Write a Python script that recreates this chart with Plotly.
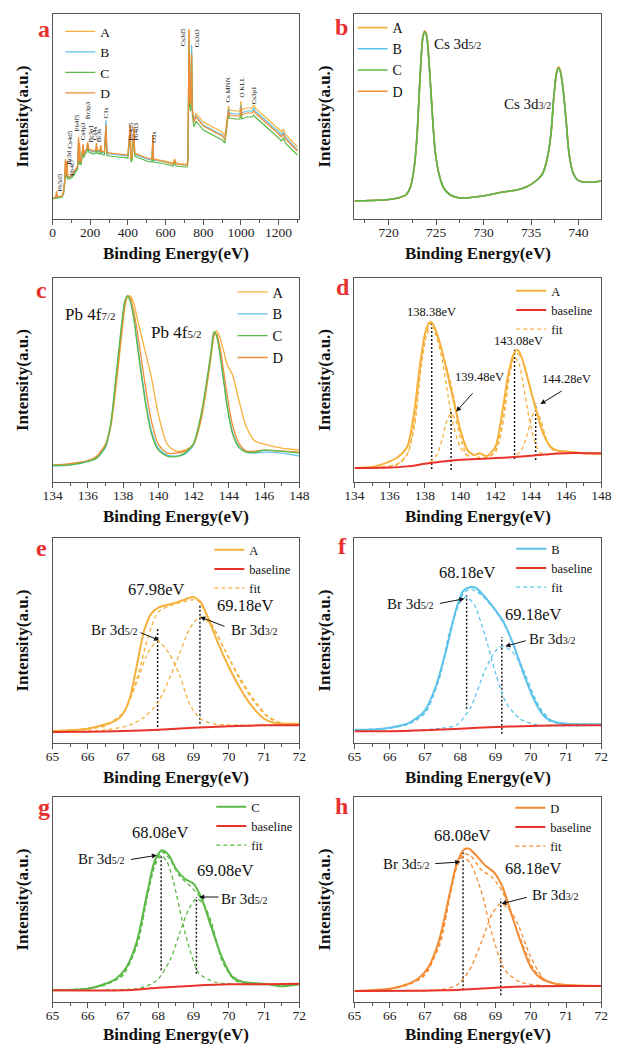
import plotly.graph_objects as go

W, H = 619, 1044
SERIF = "Liberation Serif"
COL_A = "#F6B13C"
COL_B = "#5EC3EA"
COL_C = "#5CB947"
COL_D = "#F28C35"
COL_BASE = "#E8332B"
AXIS_COL = "#555555"
FIT_DASH = "4px,3px"
VLINE_DASH = "2px,2px"

# ---------------- panel a : survey ----------------
survey_be = [0, 18, 21, 24, 50, 58, 65, 68, 72, 77,
             80, 90, 105, 120, 133, 138, 141, 143, 146, 152,
             162, 166, 172, 182, 186, 192, 200, 215, 230, 233,
             236, 250, 256, 259, 275, 284, 288, 300, 350, 400,
             412, 416, 422, 432, 436, 445, 500, 528, 532, 536,
             600, 640, 648, 655, 700, 715, 719, 724, 728, 733,
             738, 742, 750, 762, 800, 850, 900, 915, 922, 930,
             934, 940, 970, 995, 1000, 1005, 1030, 1060, 1068, 1076,
             1100, 1150, 1200, 1215, 1225, 1235, 1260, 1300]
survey_A = [21, 22, 27, 22, 23, 27, 40, 58, 44, 57,
            43, 42, 44, 49, 53, 80, 58, 75, 57, 58,
            74, 64, 68, 70, 76, 70, 69, 68, 69, 75,
            69, 68, 73, 68, 67, 95, 67, 66, 65, 64,
            92, 60, 62, 90, 66, 65, 61, 60, 82, 60,
            58, 56, 60, 56, 55, 55, 62, 189, 120, 115,
            172, 112, 100, 106, 97, 92, 87, 83, 95, 108,
            113, 109, 108, 108, 118, 109, 111, 111, 114, 111,
            107, 99, 90, 87, 90, 85, 80, 72]
survey_B = [21, 21, 26, 21, 22, 26, 39, 56, 43, 55,
            42, 41, 43, 48, 52, 78, 57, 73, 56, 57,
            72, 63, 67, 69, 74, 69, 68, 67, 68, 73,
            68, 67, 71, 67, 66, 99, 66, 65, 64, 63,
            90, 59, 61, 88, 65, 64, 60, 59, 80, 59,
            57, 55, 58, 55, 54, 54, 60, 178, 118, 113,
            174, 110, 98, 103, 94, 89, 84, 80, 92, 105,
            110, 106, 105, 105, 114, 106, 108, 108, 111, 108,
            104, 96, 87, 84, 87, 82, 77, 69]
survey_C = [20, 21, 24, 21, 22, 25, 37, 52, 41, 52,
            40, 40, 42, 46, 50, 74, 55, 70, 54, 55,
            70, 61, 65, 67, 72, 67, 66, 65, 66, 71,
            66, 65, 70, 65, 64, 88, 64, 63, 62, 61,
            86, 57, 59, 85, 63, 62, 58, 57, 78, 57,
            55, 53, 57, 53, 52, 52, 58, 176, 112, 108,
            164, 104, 92, 98, 89, 84, 79, 76, 88, 101,
            105, 101, 100, 100, 110, 100, 102, 102, 104, 102,
            98, 90, 81, 78, 81, 76, 71, 64]
survey_D = [21, 22, 28, 22, 23, 27, 41, 60, 44, 58,
            43, 42, 44, 49, 53, 82, 58, 76, 57, 58,
            75, 64, 68, 70, 77, 70, 69, 68, 69, 76,
            69, 68, 74, 68, 67, 94, 67, 66, 65, 64,
            94, 60, 62, 92, 66, 65, 61, 60, 84, 60,
            57, 55, 59, 55, 54, 54, 62, 190, 119, 114,
            165, 108, 97, 102, 93, 88, 83, 79, 91, 104,
            108, 104, 103, 103, 112, 104, 106, 106, 108, 106,
            102, 94, 85, 82, 85, 80, 75, 68]
survey_peak_names = ["Pb5d5", "Br3d", "Pb4f7", "Cs4d5", "Pb4f5", "Cs4p3", "Br3p3",
                     "Br3p1", "Cs4s", "Br3s", "C1s", "Pb4d5", "Pb4d3", "O1s",
                     "Cs3d5", "Cs3d3", "Cs MNN", "O KLL", "Cs3p1"]
survey_peak_be = [38, 86, 103, 91, 132, 163, 189, 206, 226, 248, 286, 415, 442, 537,
                  694, 768, 929, 1003, 1071]
survey_peak_I = [36, 62, 52, 79, 96, 88, 109, 86, 86, 84, 106, 87, 87, 82,
                 182, 181, 129, 131, 124]

# ---------------- panel b : Cs 3d ----------------
cs_be = [716.4, 718, 720, 721, 721.8, 722.3, 722.7, 723.0, 723.3, 723.6,
         723.8, 724.0, 724.3, 724.6, 724.9, 725.3, 725.8, 726.5, 727.5, 729,
         730.5, 732, 733.5, 734.5, 735.5, 736.2, 736.7, 737.1, 737.4, 737.7,
         737.9, 738.1, 738.4, 738.7, 739.0, 739.4, 739.9, 740.5, 741.5, 742.4]
cs_A = [18, 18.5, 19.5, 21, 24, 32, 52, 85, 140, 182,
        188, 184, 150, 105, 68, 45, 31, 24, 21, 22,
        24, 27, 29, 32, 38, 45, 60, 85, 122, 147,
        152, 148, 128, 98, 66, 47, 39, 37, 37, 38]
cs_B = [18, 18.5, 19.5, 21, 24, 32, 53, 86, 141, 182,
        187, 183, 149, 104, 67, 45, 31, 24, 21, 22,
        24, 27, 29, 32, 38, 45, 61, 86, 123, 147,
        151, 147, 127, 97, 65, 46, 39, 37, 37, 38]
cs_C = [18, 18.5, 19.5, 21, 24, 32, 52, 85, 140, 181,
        187, 183, 150, 105, 68, 45, 31, 24, 21, 22,
        24, 27, 29, 32, 38, 45, 60, 85, 122, 146,
        151, 147, 128, 98, 66, 47, 39, 37, 37, 38]
cs_D = [18, 18.5, 19.5, 21, 24, 32, 52, 84, 139, 182,
        188, 184, 151, 106, 68, 45, 31, 24, 21, 22,
        24, 27, 29, 32, 38, 45, 60, 84, 121, 147,
        152, 148, 129, 99, 66, 47, 39, 37, 37, 38]

# ---------------- panel c : Pb 4f ----------------
pb_be = [134, 135, 136, 136.5, 137, 137.3, 137.6, 137.9, 138.1, 138.25,
         138.4, 138.6, 138.8, 139.0, 139.3, 139.6, 140.0, 140.5, 141, 141.5,
         142, 142.4, 142.7, 143.0, 143.15, 143.3, 143.5, 143.7, 143.9, 144.2,
         144.6, 145, 145.5, 146, 147, 148]
pb_A = [17, 18, 21, 25, 36, 55, 95, 145, 176, 186,
        187, 180, 165, 150, 128, 106, 68, 38, 31, 32,
        38, 60, 90, 126, 146, 152, 145, 132, 118, 108,
        80, 55, 41, 38, 34, 32]
pb_B = [16, 17, 20.5, 24, 35, 58, 104, 154, 181, 187,
        183, 167, 141, 115, 79, 52, 34, 27, 26, 28,
        37, 63, 94, 130, 149, 148, 130, 104, 78, 51,
        35, 30, 29, 30, 29, 26]
pb_C = [16.7, 17.3, 20.7, 24, 35.7, 59, 106, 156, 182, 187,
        182, 165, 138, 112, 76, 49, 32, 26, 25.5, 29,
        39, 66, 96, 132, 151, 147, 128, 102, 76, 49,
        34, 30, 30, 32, 31, 29]
pb_D = [17, 18.5, 21.5, 26, 38, 58, 100, 148, 178, 187,
        185, 172, 152, 128, 92, 62, 38, 29, 29, 31,
        38, 62, 92, 130, 148, 149, 135, 112, 88, 58,
        38, 31, 31, 32, 31, 30]

# ---------------- panel d : Pb 4f fit (A) ----------------
d_be = [134, 135, 135.5, 136, 136.5, 137, 137.4, 137.7, 138.0, 138.2,
        138.35, 138.5, 138.8, 139.1, 139.4, 139.7, 140.0, 140.4, 140.8, 141.1,
        141.5, 142.0, 142.4, 142.7, 143.0, 143.2, 143.4, 143.7, 144.0, 144.3,
        144.7, 145.1, 145.5, 146, 147, 148]
d_A = [14, 15, 17.3, 20.7, 25.7, 35.7, 72, 115.7, 149, 159,
       160.7, 157, 142, 122, 99, 75.7, 52.3, 32.3, 27, 29,
       26, 35.7, 72, 105.7, 127.3, 133, 129, 112.3, 92.3, 72.3,
       49, 35.7, 31.7, 30.7, 29, 28.3]
d_base_be = [134, 136, 137, 138, 139, 140, 141, 142, 143, 144, 145, 146, 147, 148]
d_base = [14, 14.5, 15.7, 18.3, 20.7, 22.3, 23, 24, 25, 26.3, 28, 29, 29, 29]
d_env_be = [134, 135, 136, 136.5, 137, 137.4, 137.7, 138.0, 138.35, 138.8,
            139.1, 139.5, 140.0, 140.5, 141, 141.5, 142, 142.4, 142.8, 143.1,
            143.5, 144.0, 144.4, 144.8, 145.3, 146, 147, 148]
d_env = [14, 14.5, 16, 19, 28, 60, 110, 147, 160, 143,
         124, 96, 54, 30, 25, 25, 30, 62, 108, 131,
         124, 92, 68, 45, 33, 30, 29, 28.5]
d_fit1_be = [135.5, 136.5, 137.0, 137.4, 137.8, 138.1, 138.38, 138.7, 139.0, 139.3, 139.6, 140.0, 140.5]
d_fit1 = [15, 18, 28, 55, 118, 148, 155.7, 143, 120, 88, 58, 35, 24]
d_fit2_be = [138.3, 138.7, 139.0, 139.25, 139.48, 139.75, 140.0, 140.3, 140.7]
d_fit2 = [20, 28, 45, 62, 69, 62, 45, 30, 23]
d_fit3_be = [141.3, 141.8, 142.2, 142.5, 142.8, 143.08, 143.35, 143.6, 143.9, 144.2, 144.5, 145.0]
d_fit3 = [24, 27, 40, 68, 108, 125.7, 118, 95, 65, 42, 30, 27]
d_fit4_be = [143.2, 143.5, 143.8, 144.05, 144.28, 144.5, 144.8, 145.1, 145.5]
d_fit4 = [27, 33, 48, 65, 72, 66, 48, 35, 29]
d_peak_be = [138.38, 139.48, 143.08, 144.28]
d_vline_lo = [13, 12, 23, 22]
d_vline_hi = [159, 72, 133, 79]
d_peak_text = ["138.38eV", "139.48eV", "143.08eV", "144.28eV"]

# ---------------- panel e : Br 3d (A) ----------------
e_be = [65, 65.5, 66, 66.5, 66.8, 67.0, 67.2, 67.4, 67.6, 67.8,
        68.0, 68.2, 68.5, 68.8, 69.0, 69.2, 69.4, 69.7, 70.0, 70.3,
        70.6, 71.0, 71.3, 71.6, 72]
e_A = [12, 12.7, 14.3, 18.7, 22.7, 29.3, 46, 79.3, 112.7, 129.3,
       135.3, 137.7, 140.3, 144.3, 146, 141, 126, 99.3, 76, 56,
       39.3, 24.3, 20, 19.3, 19.3]
e_base_be = [65, 66, 67, 68, 69, 70, 71, 72]
e_base = [11, 11.3, 12, 13.3, 15.3, 16.7, 17.7, 17.7]
e_env_be = [65, 66, 66.5, 67.0, 67.4, 67.7, 68.0, 68.4, 68.8, 69.1, 69.5, 69.9, 70.3, 70.7, 71.1, 71.5, 72]
e_env = [12, 14, 17, 30, 65, 105, 131, 138, 142, 143, 120, 92, 64, 42, 26, 19.5, 19]
e_fit1_be = [65, 66, 66.5, 67.0, 67.4, 67.7, 67.98, 68.3, 68.6, 68.9, 69.2, 69.6, 70.2, 72]
e_fit1 = [12, 14.5, 18, 30, 62, 90, 102, 90, 68, 38, 24, 19, 18, 18]
e_fit2_be = [65, 66.5, 67.2, 67.6, 68.0, 68.5, 68.9, 69.18, 69.5, 69.9, 70.3, 70.7, 71.1, 71.5, 72]
e_fit2 = [11, 13, 18, 26, 41, 80, 115, 126, 118, 92, 66, 44, 27, 20, 19]
e_peak_be = [67.98, 69.18]
e_vline_lo = [12, 19.3]
e_vline_hi = [116, 137.7]

# ---------------- panel f : Br 3d (B) ----------------
f_be = [65, 65.5, 66, 66.5, 66.8, 67.0, 67.3, 67.6, 67.9, 68.1,
        68.3, 68.45, 68.7, 68.95, 69.2, 69.5, 69.8, 70.1, 70.4, 70.7,
        71.0, 71.5, 72]
f_B = [13.3, 13.3, 15.3, 19.3, 26, 32.7, 56, 92.7, 136, 152.7,
       156, 155, 146, 135, 122.7, 99.3, 69.3, 42.7, 26, 21,
       19.3, 18.7, 18.7]
f_base_be = [65, 66, 67, 68, 69, 70, 71, 72]
f_base = [11.7, 11.7, 12.7, 14.3, 16, 17, 17.7, 17.7]
f_env_be = [65, 66, 66.5, 67.0, 67.4, 67.8, 68.1, 68.3, 68.6, 69.0, 69.4, 69.8, 70.2, 70.6, 71.0, 72]
f_env = [13, 15, 18.5, 30, 64, 122, 150, 154, 148, 132, 108, 68, 38, 22, 19, 18.7]
f_fit1_be = [65, 66, 66.6, 67.0, 67.4, 67.7, 68.0, 68.18, 68.4, 68.7, 69.0, 69.3, 69.7, 70.2, 72]
f_fit1 = [13, 15, 20, 30, 64, 112, 141, 146, 138, 108, 70, 40, 24, 18, 17.7]
f_fit2_be = [66.5, 67.5, 67.9, 68.3, 68.7, 69.0, 69.2, 69.45, 69.7, 70.15, 70.5, 71.0, 72]
f_fit2 = [12, 15, 18, 36, 72.7, 92, 96.7, 92, 80, 42.7, 22.7, 18.7, 18.5]
f_peak_be = [68.18, 69.18]
f_vline_lo = [34.3, 9.3]
f_vline_hi = [147.7, 106]

# ---------------- panel g : Br 3d (C) ----------------
g_be = [65, 66, 66.5, 66.8, 67.1, 67.4, 67.7, 67.9, 68.1, 68.3,
        68.5, 68.75, 69.0, 69.25, 69.5, 69.8, 70.1, 70.4, 71, 71.5, 72]
g_C = [11.7, 13.3, 18.3, 23.3, 35, 61.7, 111.7, 141.7, 151.7, 146.7,
       133.3, 123.3, 118.3, 101.7, 75, 45, 25, 20, 18.3, 15.7, 17.7]
g_base_be = [65, 67, 68, 69, 70, 71, 72]
g_base = [11.7, 11.7, 14.3, 16.3, 17.7, 17.7, 18.3]
g_env_be = [65, 66, 66.5, 67.0, 67.4, 67.7, 67.9, 68.1, 68.3, 68.6, 68.9, 69.2, 69.5, 69.8, 70.1, 70.5, 71, 72]
g_env = [12, 13.5, 17, 28, 58, 108, 138, 150, 144, 126, 116, 104, 78, 45, 26, 19, 18, 18]
g_fit1_be = [65, 66, 66.95, 67.41, 67.7, 67.9, 68.08, 68.25, 68.42, 68.79, 69.16, 69.6, 70.2, 72]
g_fit1 = [12, 13.5, 25, 58.3, 108, 136, 146.7, 140, 121.7, 65, 28.3, 20, 17.7, 18]
g_fit2_be = [66.5, 67.5, 67.96, 68.33, 68.6, 68.85, 69.08, 69.3, 69.52, 69.8, 70.17, 70.6, 72]
g_fit2 = [12, 14, 21.7, 41.7, 68.3, 92, 103.3, 97, 78.3, 41.7, 21.7, 18, 18]
g_peak_be = [68.08, 69.08]
g_vline_lo = [31.7, 28.3]
g_vline_hi = [146.7, 105]

# ---------------- panel h : Br 3d (D) ----------------
h_be = [65, 66, 66.5, 66.8, 67.1, 67.4, 67.7, 67.9, 68.1, 68.25,
        68.45, 68.7, 68.95, 69.2, 69.45, 69.7, 70.0, 70.3, 70.7, 71.2, 72]
h_D = [11, 13.3, 17.7, 23.3, 35, 61.7, 108.3, 138.3, 152.3, 153.3,
       146.7, 136.7, 130, 115, 88.3, 61.7, 35, 23.3, 18.3, 16.7, 16]
h_base_be = [65, 67, 67.5, 68, 69, 70, 71, 72]
h_base = [11, 11.3, 11.7, 12.3, 14.3, 15.7, 16, 16]
h_env_be = [65, 66, 66.5, 67.0, 67.4, 67.7, 67.9, 68.1, 68.3, 68.6, 68.9, 69.2, 69.5, 69.8, 70.1, 70.5, 71, 72]
h_env = [11, 13, 17, 27, 58, 105, 135, 148, 146, 132, 125, 110, 82, 55, 32, 20, 17, 16]
h_fit1_be = [65, 66, 66.9, 67.43, 67.7, 67.9, 68.08, 68.3, 68.62, 68.9, 69.27, 69.7, 70.3, 72]
h_fit1 = [11, 13, 24, 58.3, 105, 135, 145, 138, 108, 68, 31.7, 20, 16.5, 16]
h_fit2_be = [66.5, 67.5, 67.9, 68.26, 68.62, 68.9, 69.15, 69.4, 69.63, 70.0, 70.37, 70.8, 72]
h_fit2 = [11.5, 12.5, 16.7, 31.7, 61.7, 88, 98.3, 92, 78.3, 45, 23.3, 17.5, 16]
h_peak_be = [68.08, 69.15]
h_vline_lo = [11.7, 6.7]
h_vline_hi = [150, 103.3]

# ---------------- geometry ----------------
COL_X = [(44, 299), (356, 611)]
ROW_Y = [(14, 219), (278, 482), (538, 743), (797, 1002)]


def xdom(c):
    return [COL_X[c][0] / W, COL_X[c][1] / W]


def ydom(r):
    return [1 - ROW_Y[r][1] / H, 1 - ROW_Y[r][0] / H]


def names(k):
    s = "" if k == 1 else str(k)
    return "x" + s, "y" + s, "xaxis" + s, "yaxis" + s, "legend" + s


fig = go.Figure()


def add_line(k, x, y, color, name=None, width=1.5, dash=None, rank=None,
             spline=True):
    xr, yr, _, _, lg = names(k)
    fig.add_trace(go.Scatter(
        x=x, y=y, mode="lines", xaxis=xr, yaxis=yr,
        line=dict(color=color, width=width, dash=dash,
                  shape="spline" if spline else "linear", smoothing=0.7),
        name=name, showlegend=name is not None, legend=lg,
        legendrank=rank if rank is not None else 1000,
        hoverinfo="skip"))


def add_vlines(k, pos, lo, hi):
    xs, ys = [], []
    for p, a, b in zip(pos, lo, hi):
        xs += [p, p, None]
        ys += [a, b, None]
    xr, yr, _, _, lg = names(k)
    fig.add_trace(go.Scatter(x=xs, y=ys, mode="lines", xaxis=xr, yaxis=yr,
                             line=dict(color="#1a1a1a", width=1.5, dash=VLINE_DASH),
                             showlegend=False, hoverinfo="skip"))


# panel a
add_line(1, survey_be, survey_A, COL_A, "A", 1.2, rank=1, spline=False)
add_line(1, survey_be, survey_B, COL_B, "B", 1.2, rank=2, spline=False)
add_line(1, survey_be, survey_C, COL_C, "C", 1.2, rank=3, spline=False)
add_line(1, survey_be, survey_D, COL_D, "D", 1.2, rank=4, spline=False)

# panel b
add_line(2, cs_be, cs_A, COL_A, "A", 1.6, rank=1)
add_line(2, cs_be, cs_B, COL_B, "B", 1.6, rank=2)
add_line(2, cs_be, cs_D, COL_D, "D", 1.6, rank=4)
add_line(2, cs_be, cs_C, COL_C, "C", 1.6, rank=3)

# panel c
add_line(3, pb_be, pb_A, COL_A, "A", 1.3, rank=1)
add_line(3, pb_be, pb_B, COL_B, "B", 1.3, rank=2)
add_line(3, pb_be, pb_D, COL_D, "D", 1.3, rank=4)
add_line(3, pb_be, pb_C, COL_C, "C", 1.3, rank=3)

# fit panels
fit_panels = [
    (4, d_be, d_A, COL_A, "A", d_base_be, d_base, d_env_be, d_env,
     [(d_fit1_be, d_fit1), (d_fit2_be, d_fit2), (d_fit3_be, d_fit3), (d_fit4_be, d_fit4)],
     d_peak_be, d_vline_lo, d_vline_hi),
    (5, e_be, e_A, COL_A, "A", e_base_be, e_base, e_env_be, e_env,
     [(e_fit1_be, e_fit1), (e_fit2_be, e_fit2)], e_peak_be, e_vline_lo, e_vline_hi),
    (6, f_be, f_B, COL_B, "B", f_base_be, f_base, f_env_be, f_env,
     [(f_fit1_be, f_fit1), (f_fit2_be, f_fit2)], f_peak_be, f_vline_lo, f_vline_hi),
    (7, g_be, g_C, COL_C, "C", g_base_be, g_base, g_env_be, g_env,
     [(g_fit1_be, g_fit1), (g_fit2_be, g_fit2)], g_peak_be, g_vline_lo, g_vline_hi),
    (8, h_be, h_D, COL_D, "D", h_base_be, h_base, h_env_be, h_env,
     [(h_fit1_be, h_fit1), (h_fit2_be, h_fit2)], h_peak_be, h_vline_lo, h_vline_hi),
]
for (k, bx, by, col, nm, blx, bly, evx, evy, comps, pk, lo, hi) in fit_panels:
    add_vlines(k, pk, lo, hi)
    add_line(k, evx, evy, col, "fit", 1.3, dash=FIT_DASH, rank=3)
    for cx, cy in comps:
        add_line(k, cx, cy, col, None, 1.3, dash=FIT_DASH)
    add_line(k, bx, by, col, nm, 2, rank=1)
    add_line(k, blx, bly, COL_BASE, "baseline", 2, rank=2)

# ---------------- axes ----------------
panel_axes = [
    (1, 0, 0, [0, 1310], 0, 200, 100),
    (2, 1, 0, [716.4, 742.4], 720, 5, 2.5),
    (3, 0, 1, [134, 148], 134, 2, 1),
    (4, 1, 1, [134, 148], 134, 2, 1),
    (5, 0, 2, [65, 72], 65, 1, 0.5),
    (6, 1, 2, [65, 72], 65, 1, 0.5),
    (7, 0, 3, [65, 72], 65, 1, 0.5),
    (8, 1, 3, [65, 72], 65, 1, 0.5),
]
title_font = dict(family=SERIF, size=17, color="#111111", weight="bold")
layout_axes = {}
for k, c, r, rng, t0, dt, mn in panel_axes:
    xr, yr, xa, ya, lg = names(k)
    layout_axes[xa] = dict(
        domain=xdom(c), anchor=yr, range=rng, tick0=t0, dtick=dt,
        ticks="outside", ticklen=5, tickwidth=1, tickcolor=AXIS_COL,
        ticklabelstandoff=-4,
        minor=dict(dtick=mn, ticks="outside", ticklen=3, tickwidth=1, tickcolor=AXIS_COL),
        showline=True, linecolor=AXIS_COL, linewidth=1, mirror=True,
        showgrid=False, zeroline=False,
        tickfont=dict(family=SERIF, size=13.5, color="#222222"),
        title=dict(text="Binding Energy(eV)", font=title_font, standoff=7))
    layout_axes[ya] = dict(
        domain=ydom(r), anchor=xr, range=[0, 205],
        showticklabels=False, ticks="", showline=True, mirror=True,
        linecolor=AXIS_COL, linewidth=1, showgrid=False, zeroline=False,
        title=dict(text="Intensity(a.u.)", font=title_font, standoff=18))

# ---------------- legends ----------------
legend_pos = {1: (52, 16, 13.5), 2: (354, 12, 14), 3: (230, 276, 14.5),
              4: (518, 276, 12.5), 5: (206, 535, 12.5), 6: (518, 534, 12.5),
              7: (208, 792, 12.5), 8: (517, 793, 12.5)}
for k, (lx, ly, fs) in legend_pos.items():
    _, _, _, _, lg = names(k)
    layout_axes[lg] = dict(x=lx / W, y=1 - ly / H, xanchor="left", yanchor="top",
                           bgcolor="rgba(0,0,0,0)", borderwidth=0,
                           font=dict(family=SERIF, size=fs, color="#111111"),
                           traceorder="normal")

# ---------------- annotations ----------------
ann = []
panel_letters = ["a", "b", "c", "d", "e", "f", "g", "h"]
letter_px = [(35, 29), (343, 27), (33, 290), (344, 287), (33, 548), (344, 546), (35, 807), (343, 806)]
for t, (px, py) in zip(panel_letters, letter_px):
    ann.append(dict(text=t, x=px / W, y=1 - py / H, xref="paper", yref="paper",
                    showarrow=False, xanchor="center", yanchor="middle",
                    font=dict(family=SERIF, size=24, color="#E8312F", weight="bold")))

for t, bx, iy in zip(survey_peak_names, survey_peak_be, survey_peak_I):
    ann.append(dict(text=t, x=bx, y=iy, xref="x", yref="y", showarrow=False,
                    textangle=-90, font=dict(family=SERIF, size=7, color="#111111")))

sub = '<span style="font-size:10px">%s</span>'


def txt(k, text, x, y, size):
    xr, yr, _, _, _ = names(k)
    ann.append(dict(text=text, x=x, y=y, xref=xr, yref=yr, showarrow=False,
                    font=dict(family=SERIF, size=size, color="#111111")))


def arrow(k, tx, ty, hx, hy):
    xr, yr, _, _, _ = names(k)
    ann.append(dict(text="", x=hx, y=hy, ax=tx, ay=ty, xref=xr, yref=yr,
                    axref=xr, ayref=yr, showarrow=True, arrowhead=2, arrowsize=1,
                    arrowwidth=1, arrowcolor="#111111", standoff=0, startstandoff=0))


txt(2, "Cs 3d" + sub % "5/2", 727.3, 175, 15)
txt(2, "Cs 3d" + sub % "3/2", 734.6, 115, 15)
txt(3, "Pb 4f" + (sub % "7/2").replace("10px", "11px"), 136.1, 168, 17)
txt(3, "Pb 4f" + (sub % "5/2").replace("10px", "11px"), 141.0, 150, 17)

# panel d labels
for t, x, y in zip(d_peak_text, [138.39, 141.09, 143.31, 146.0], [170.7, 105.7, 141.3, 104]):
    txt(4, t, x, y, 12.5)
arrow(4, 140.78, 90.7, 139.77, 70.7)
arrow(4, 145.83, 92.3, 144.55, 78.3)

# panel e
txt(5, "67.98eV", 67.93, 154, 16.5)
txt(5, "69.18eV", 70.45, 137.5, 16.5)
txt(5, "Br 3d" + sub % "5/2", 66.75, 112.7, 15)
txt(5, "Br 3d" + sub % "3/2", 70.72, 113.5, 15)
arrow(5, 67.45, 111, 68.02, 102.7)
arrow(5, 69.92, 116, 69.19, 126)

# panel f
txt(6, "68.18eV", 68.2, 171, 16.5)
txt(6, "69.18eV", 70.06, 128.7, 16.5)
txt(6, "Br 3d" + sub % "5/2", 66.6, 139.3, 15)
txt(6, "Br 3d" + sub % "3/2", 70.62, 104.3, 15)
arrow(6, 67.38, 139.3, 68.12, 144.3)
arrow(6, 69.9, 102.7, 69.28, 96.7)

# panel g
txt(7, "68.08eV", 68.06, 170, 16.5)
txt(7, "69.08eV", 69.9, 131.7, 16.5)
txt(7, "Br 3d" + sub % "5/2", 66.4, 143.3, 15)
txt(7, "Br 3d" + sub % "5/2", 70.45, 103.3, 15)
arrow(7, 67.18, 142.3, 67.96, 146.7)
arrow(7, 69.75, 105, 69.16, 105)

# panel h
txt(8, "68.08eV", 68.04, 166.7, 16.5)
txt(8, "68.18eV", 70.05, 133.3, 16.5)
txt(8, "Br 3d" + sub % "5/2", 66.47, 138.3, 15)
txt(8, "Br 3d" + sub % "3/2", 70.7, 106.7, 15)
arrow(8, 67.25, 138.3, 68.0, 140)
arrow(8, 69.93, 105, 69.17, 98.3)

fig.update_layout(
    width=W, height=H, margin=dict(l=0, r=0, t=0, b=0),
    paper_bgcolor="white", plot_bgcolor="white",
    font=dict(family=SERIF, color="#111111"),
    annotations=ann, **layout_axes)

fig.write_html("out.html", config={"displayModeBar": False},
               post_script="document.body.style.margin='0px';document.body.style.padding='0px';")
